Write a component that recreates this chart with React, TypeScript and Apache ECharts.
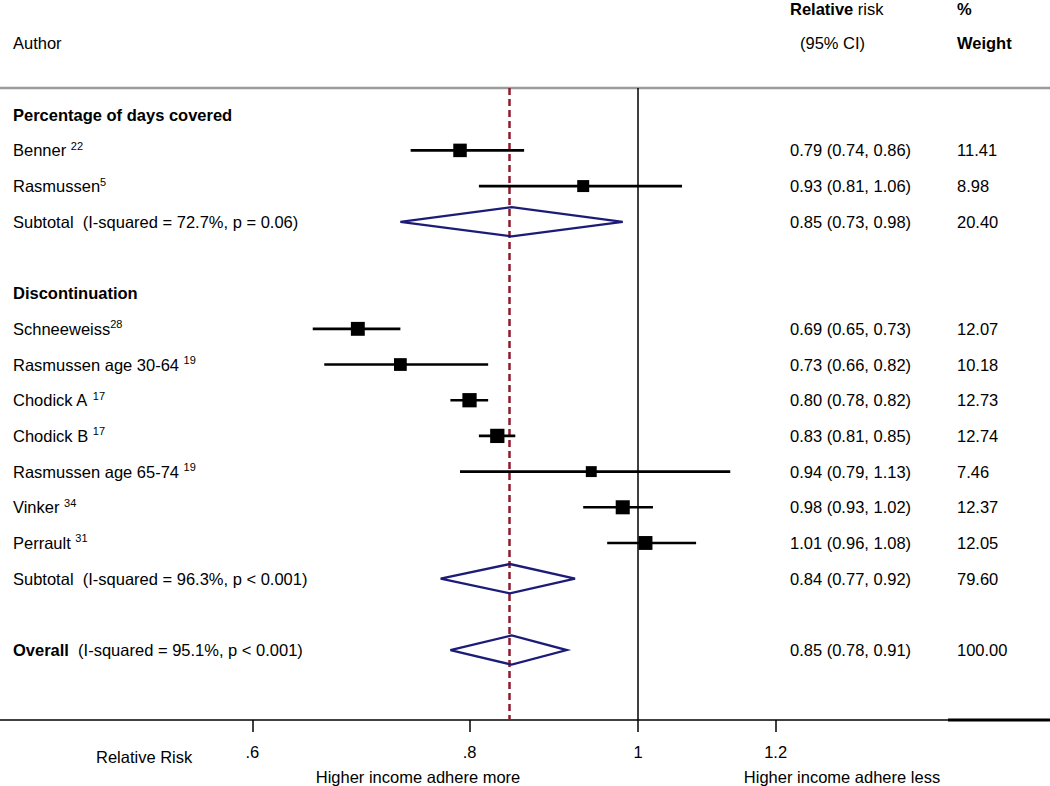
import React, { useEffect, useRef } from 'react';
import * as echarts from 'echarts';

// ---- data ----
const studyNames = ['Benner ', 'Rasmussen', 'Schneeweiss', 'Rasmussen age 30-64 ', 'Chodick A ', 'Chodick B ', 'Rasmussen age 65-74 ', 'Vinker ', 'Perrault '];
const studyRefs = ['22', '5', '28', '19', '17', '17', '19', '34', '31'];
const studyRR = [0.79, 0.93, 0.69, 0.73, 0.80, 0.83, 0.94, 0.98, 1.01];
const studyLow = [0.74, 0.81, 0.65, 0.66, 0.78, 0.81, 0.79, 0.93, 0.96];
const studyHigh = [0.86, 1.06, 0.73, 0.82, 0.82, 0.85, 1.13, 1.02, 1.08];
const studyWeight = [11.41, 8.98, 12.07, 10.18, 12.73, 12.74, 7.46, 12.37, 12.05];
const studyRow = [1, 2, 6, 7, 8, 9, 10, 11, 12];

const pooledNames = ['Subtotal', 'Subtotal', 'Overall'];
const pooledBold = [false, false, true];
const pooledHet = ['  (I-squared = 72.7%, p = 0.06)', '  (I-squared = 96.3%, p < 0.001)', '  (I-squared = 95.1%, p < 0.001)'];
const pooledRR = [0.846, 0.844, 0.846];
const pooledLow = [0.73, 0.77, 0.78];
const pooledHigh = [0.98, 0.92, 0.91];
const pooledWeight = [20.40, 79.60, 100.00];
const pooledRow = [3, 13, 15];

const groupNames = ['Percentage of days covered', 'Discontinuation'];
const groupRow = [0, 5];

const axisTicks = [0.6, 0.8, 1, 1.2];
const tickLabels = ['.6', '.8', '1', '1.2'];

const FONT = '"Liberation Sans", Arial, Helvetica, sans-serif';
const FS = 16.5;

const fmtCI = (rr: number, lo: number, hi: number) => `${rr.toFixed(2)} (${lo.toFixed(2)}, ${hi.toFixed(2)})`;

type RowText = { row: number; label: string; es: string; wt: string };

const rowTexts: RowText[] = [
  ...groupNames.map((n, i) => ({ row: groupRow[i], label: `{b|${n}}`, es: '', wt: '' })),
  ...studyNames.map((n, i) => ({
    row: studyRow[i],
    label: `{n|${n}}{s|${studyRefs[i]}}`,
    es: fmtCI(studyRR[i], studyLow[i], studyHigh[i]),
    wt: studyWeight[i].toFixed(2),
  })),
  ...pooledNames.map((n, i) => ({
    row: pooledRow[i],
    label: `{${pooledBold[i] ? 'b' : 'n'}|${n}}{n|${pooledHet[i]}}`,
    es: fmtCI(pooledRR[i], pooledLow[i], pooledHigh[i]),
    wt: pooledWeight[i].toFixed(2),
  })),
];

const rich = {
  n: { fontSize: FS, fontFamily: FONT, color: '#000', lineHeight: 20 },
  b: { fontSize: FS, fontFamily: FONT, color: '#000', fontWeight: 'bold', lineHeight: 20 },
  s: { fontSize: 11, fontFamily: FONT, color: '#000', verticalAlign: 'top', lineHeight: 14 },
};

export default function App() {
  const ref = useRef<HTMLDivElement>(null);
  useEffect(() => {
    if (!ref.current) return;
    const chart = echarts.init(ref.current, undefined, { renderer: 'svg' });
    const overall = pooledRR[2];
    const txt = (x: number, y: number, text: string, extra: any = {}) => ({
      type: 'text', x, y,
      style: { text, fill: '#000', fontSize: FS, fontFamily: FONT, verticalAlign: 'middle', align: 'left', ...extra },
    });
    chart.setOption({
      animation: false,
      backgroundColor: '#fff',
      grid: { left: 0, right: 0, top: 88, bottom: 66, containLabel: false },
      xAxis: {
        type: 'value',
        min: -0.845,
        max: 0.5457,
        splitLine: { show: false },
        axisLine: { show: true, onZero: false, lineStyle: { color: '#000', width: 1.5 } },
        axisTick: { show: true, length: 12, lineStyle: { color: '#000', width: 1.5 }, customValues: axisTicks.map(Math.log) },
        axisLabel: {
          show: true,
          margin: 23,
          fontSize: FS,
          fontFamily: FONT,
          color: '#000',
          customValues: axisTicks.map(Math.log),
          formatter: (v: number) => {
            const i = axisTicks.findIndex((t) => Math.abs(Math.log(t) - v) < 1e-6);
            return i >= 0 ? tickLabels[i] : '';
          },
        },
      },
      yAxis: {
        type: 'value', inverse: true, min: -0.748, max: 16.96, show: false,
      },
      graphic: [
        { type: 'line', shape: { x1: 0, y1: 88, x2: 1050, y2: 88 }, style: { stroke: '#9a9a9a', lineWidth: 2.5 } },
        { type: 'line', shape: { x1: 948, y1: 720, x2: 1050, y2: 720 }, style: { stroke: '#000', lineWidth: 3 } },
        { type: 'text', x: 790, y: 9, style: { text: '{b|Relative}{n| risk}', rich, verticalAlign: 'middle', align: 'left' } },
        txt(957, 9, '%', { fontWeight: 'bold' }),
        txt(13, 43, 'Author'),
        txt(800, 43, '(95% CI)'),
        txt(957, 43, 'Weight', { fontWeight: 'bold' }),
        txt(96, 757, 'Relative Risk'),
        txt(418, 777, 'Higher income adhere more', { align: 'center' }),
        txt(842, 777, 'Higher income adhere less', { align: 'center' }),
      ],
      series: [
        {
          type: 'custom',
          name: 'ci',
          z: 3,
          encode: { x: [0, 1], y: 2 },
          data: studyRow.map((r, i) => [Math.log(studyLow[i]), Math.log(studyHigh[i]), r]),
          renderItem: (params: any, api: any) => {
            const p1 = api.coord([api.value(0), api.value(2)]);
            const p2 = api.coord([api.value(1), api.value(2)]);
            return { type: 'line', shape: { x1: p1[0], y1: p1[1], x2: p2[0], y2: p2[1] }, style: { stroke: '#000', lineWidth: 2.6 } };
          },
        },
        {
          type: 'scatter',
          name: 'rr',
          z: 4,
          symbol: 'rect',
          data: studyRow.map((r, i) => [Math.log(studyRR[i]), r, studyWeight[i]]),
          symbolSize: (v: number[]) => 4 * Math.sqrt(v[2]),
          itemStyle: { color: '#000', opacity: 1 },
          markLine: {
            silent: true,
            symbol: 'none',
            label: { show: false },
            z: 2,
            data: [
              { xAxis: 0, lineStyle: { color: '#000', width: 1.5, type: 'solid' } },
              { xAxis: Math.log(overall), lineStyle: { color: '#8e1b2e', width: 2.5, type: [7, 4] } },
            ],
          },
        },
        {
          type: 'custom',
          name: 'diamonds',
          z: 5,
          encode: { x: [0, 1, 2], y: 3 },
          data: pooledRow.map((r, i) => [Math.log(pooledLow[i]), Math.log(pooledRR[i]), Math.log(pooledHigh[i]), r]),
          renderItem: (params: any, api: any) => {
            const row = api.value(3);
            const l = api.coord([api.value(0), row]);
            const m = api.coord([api.value(1), row]);
            const h = api.coord([api.value(2), row]);
            const hh = api.size([0, 0.41])[1];
            return {
              type: 'polygon',
              shape: { points: [[l[0], l[1]], [m[0], m[1] - hh], [h[0], h[1]], [m[0], m[1] + hh]] },
              style: { fill: 'none', stroke: '#1c1c78', lineWidth: 2.3 },
            };
          },
        },
        {
          type: 'custom',
          name: 'texts',
          z: 6,
          encode: { y: 0 },
          data: rowTexts.map((t) => [t.row]),
          renderItem: (params: any, api: any) => {
            const t = rowTexts[params.dataIndex];
            const y = api.coord([0, api.value(0)])[1];
            return {
              type: 'group',
              children: [
                { type: 'text', x: 13, y, style: { text: t.label, rich, verticalAlign: 'middle', align: 'left' } },
                { type: 'text', x: 790, y, style: { text: t.es, fill: '#000', fontSize: FS, fontFamily: FONT, verticalAlign: 'middle', align: 'left' } },
                { type: 'text', x: 957, y, style: { text: t.wt, fill: '#000', fontSize: FS, fontFamily: FONT, verticalAlign: 'middle', align: 'left' } },
              ],
            };
          },
        },
      ],
    });
    return () => chart.dispose();
  }, []);
  return <div ref={ref} style={{ position: 'absolute', left: 0, top: 0, width: 1050, height: 786, background: '#fff' }} />;
}
